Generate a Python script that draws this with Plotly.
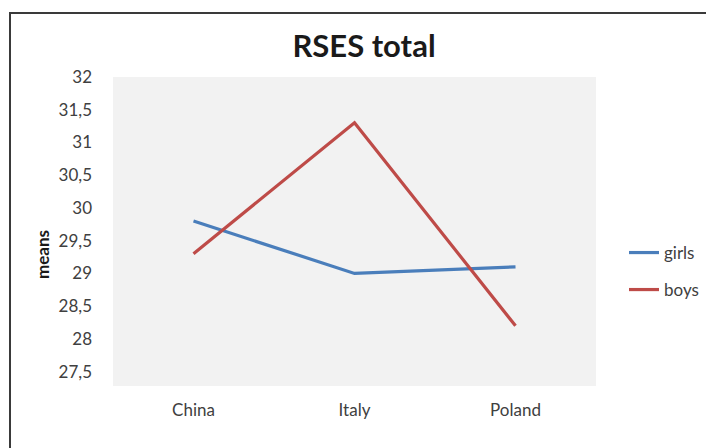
import plotly.graph_objects as go

countries = ["China", "Italy", "Poland"]
girls = [29.8, 29.0, 29.1]
boys = [29.3, 31.3, 28.2]
y_ticks = [27.5, 28, 28.5, 29, 29.5, 30, 30.5, 31, 31.5, 32]
y_tick_text = ["27,5", "28", "28,5", "29", "29,5", "30", "30,5", "31", "31,5", "32"]

FONT = "Lato"
TEXT = "#404040"

L, R, T, B = 113, 110, 77, 62
W, H = 706, 448
pw, ph = W - L - R, H - T - B


def px_x(px):
    return (px - L) / pw


def px_y(py):
    return (H - B - py) / ph


fig = go.Figure()
fig.add_trace(go.Scatter(x=countries, y=girls, name="girls", mode="lines",
                         line=dict(color="#4a7ebb", width=3.2), legend="legend"))
fig.add_trace(go.Scatter(x=countries, y=boys, name="boys", mode="lines",
                         line=dict(color="#be4b48", width=3.2), legend="legend2"))

# outer chart frame: left and top edges visible, the rest runs off the page
fig.add_shape(type="rect", xref="paper", yref="paper",
              x0=px_x(10), x1=px_x(720), y0=px_y(460), y1=px_y(13),
              line=dict(color="#3a3a3a", width=2), fillcolor="rgba(0,0,0,0)",
              layer="above")

# vertical axis title, sitting a little below the plot's middle
fig.add_annotation(text="<b>means</b>", textangle=-90, showarrow=False,
                   xref="paper", yref="paper", x=px_x(42), y=px_y(255),
                   xanchor="center", yanchor="middle",
                   font=dict(family=FONT, size=17, color="#1a1a1a"))

legend_common = dict(xanchor="left", yanchor="middle", bgcolor="rgba(0,0,0,0)",
                     font=dict(family=FONT, size=17, color=TEXT))

fig.update_layout(
    width=W, height=H,
    margin=dict(l=L, r=R, t=T, b=B, autoexpand=False),
    paper_bgcolor="white",
    plot_bgcolor="#f2f2f2",
    font=dict(family=FONT, color=TEXT, size=16),
    title=dict(text="<b>RSES total</b>", x=364 / W, xanchor="center",
               y=1 - 46 / H, yanchor="middle",
               font=dict(family=FONT, size=31, color="#1a1a1a")),
    showlegend=True,
    legend=dict(x=px_x(624), y=px_y(253), **legend_common),
    legend2=dict(x=px_x(624), y=px_y(290), **legend_common),
    xaxis=dict(range=[-0.5, 2.5], showgrid=False, zeroline=False, showline=False,
               ticks="", ticklabelstandoff=12, tickfont=dict(size=17, color=TEXT)),
    yaxis=dict(range=[27.28, 32], tickvals=y_ticks, ticktext=y_tick_text,
               showgrid=False, zeroline=False, showline=False, ticks="",
               ticklabelstandoff=20, tickfont=dict(size=17, color=TEXT)),
)

fig.write_html("out.html")
